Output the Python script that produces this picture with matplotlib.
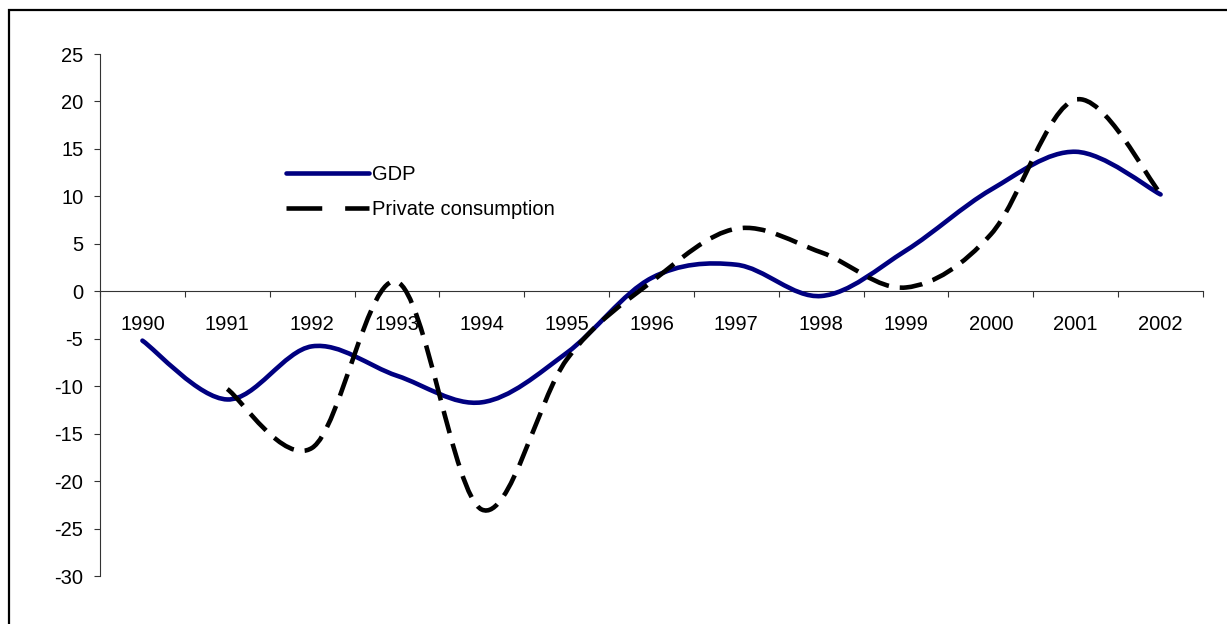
import numpy as np
import matplotlib.pyplot as plt
from matplotlib.path import Path
from matplotlib.patches import PathPatch, Rectangle
from matplotlib.lines import Line2D

years = ['1990', '1991', '1992', '1993', '1994', '1995', '1996',
         '1997', '1998', '1999', '2000', '2001', '2002']
gdp = [-5.2, -11.4, -5.8, -8.9, -11.7, -6.5, 1.4, 2.8, -0.5, 4.3, 10.7, 14.7, 10.2]
# private consumption starts in 1991
cons_years = years[1:]
cons = [-10.3, -16.5, 1.0, -23.0, -7.2, 1.0, 6.6, 4.1, 0.4, 6.0, 20.2, 10.3]

plt.rcParams['font.family'] = ['Liberation Sans', 'DejaVu Sans']
plt.rcParams['axes.unicode_minus'] = False

W, H = 1227, 624
fig = plt.figure(figsize=(W / 100, H / 100), dpi=100)
left, right, top, bottom = 100, 1203, 54, 576
ax = fig.add_axes([left / W, 1 - bottom / H, (right - left) / W, (bottom - top) / H])


def smooth_path(x, y):
    # excel-like smoothed line: catmull-rom as cubic bezier
    pts = np.column_stack([x, y]).astype(float)
    n = len(pts)
    verts = [pts[0]]
    codes = [Path.MOVETO]
    for i in range(n - 1):
        p0 = pts[i - 1] if i > 0 else pts[i]
        p1 = pts[i]
        p2 = pts[i + 1]
        p3 = pts[i + 2] if i + 2 < n else pts[i + 1]
        verts += [p1 + (p2 - p0) / 6, p2 - (p3 - p1) / 6, p2]
        codes += [Path.CURVE4] * 3
    return Path(verts, codes)


xg = np.arange(len(years))
xc = np.array([years.index(y) for y in cons_years])

ax.add_patch(PathPatch(smooth_path(xg, gdp), fill=False, ec='#000080',
                       lw=3.3, capstyle='round', joinstyle='round', zorder=3))
ax.add_patch(PathPatch(smooth_path(xc, cons), fill=False, ec='black',
                       lw=3.3, ls=(0, (5.0, 2.4)), zorder=4))

ax.set_xlim(-0.5, len(years) - 0.5)
ax.set_ylim(-30, 25)
ax.set_yticks(np.arange(-30, 26, 5))

for s in ['top', 'right']:
    ax.spines[s].set_visible(False)
ax.spines['bottom'].set_position(('data', 0))
ax.spines['left'].set_linewidth(0.8)
ax.spines['bottom'].set_linewidth(0.8)
ax.spines['left'].set_color('#333333')
ax.spines['bottom'].set_color('#333333')

ax.set_xticks(np.arange(-0.5, len(years), 1))
ax.set_xticklabels([])
ax.set_xticks(xg, minor=True)
ax.set_xticklabels(years, minor=True)
ax.tick_params(axis='x', which='major', direction='out', length=4, width=0.8, color='#333333')
ax.tick_params(axis='x', which='minor', length=0, pad=17, labelsize=14.5)
ax.tick_params(axis='y', direction='out', length=4, width=0.8, color='#333333',
               pad=8, labelsize=14.5)

handles = [Line2D([], [], color='#000080', lw=3.3, solid_capstyle='round'),
           Line2D([], [], color='black', lw=3.3, ls=(0, (7.8, 5.0)))]
ax.legend(handles, ['GDP', 'Private consumption'], loc='upper left',
          bbox_to_anchor=(286 / W, 1 - 165 / H), bbox_transform=fig.transFigure,
          frameon=False, fontsize=14.5, handlelength=4.1, handletextpad=0.15,
          labelspacing=0.78, borderpad=0, borderaxespad=0)

# outer chart border (right and bottom edges fall outside the picture)
fig.add_artist(Rectangle((8.5 / W, -0.1), 1.2, 1.1 - 9.5 / H, transform=fig.transFigure,
                         fill=False, ec='black', lw=1.6))

fig.savefig('out.png', dpi=100)
